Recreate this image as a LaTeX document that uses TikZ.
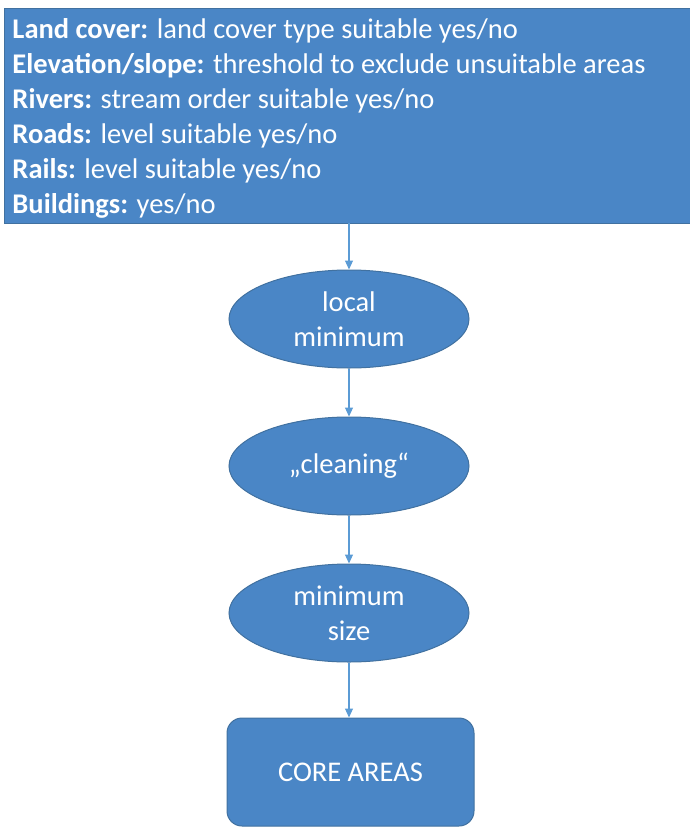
\documentclass[tikz,border=0pt]{standalone}
\usepackage{fontspec}
\setmainfont{Carlito}
\usetikzlibrary{shapes.geometric,arrows.meta}
\definecolor{boxfill}{RGB}{74,134,198}
\definecolor{boxline}{RGB}{65,113,160}
\definecolor{arrowcol}{RGB}{91,155,213}
\tikzset{
  blob/.style={fill=boxfill,draw=boxline,line width=1pt,text=white,font=\fontsize{28.5}{35}\selectfont},
  oval/.style={blob,ellipse,minimum width=240pt,minimum height=98pt,inner sep=0pt,align=center},
  flow/.style={draw=arrowcol,line width=1.1pt,-{Triangle[length=9pt,width=8pt]}}
}
\begin{document}
\begin{tikzpicture}[x=1pt,y=1pt]
\useasboundingbox (0,0) rectangle (690,-828);
\node[blob,anchor=north west,minimum width=692pt,minimum height=214.5pt,text width=676pt,inner xsep=5pt,inner ysep=0pt,align=flush left] (inputs) at (4,-8.3)
{\rule{0pt}{25pt}\textbf{Land cover:} land cover type suitable yes/no\\
\textbf{Elevation/slope:} threshold to exclude unsuitable areas\\
\textbf{Rivers:} stream order suitable yes/no\\
\textbf{Roads:} level suitable yes/no\\
\textbf{Rails:} level suitable yes/no\\
\textbf{Buildings:} yes/no};
\node[oval] (lm) at (349,-319) {local\\minimum};
\node[oval] (cl) at (349,-466) {„cleaning“};
\node[oval] (ms) at (349,-613) {minimum\\size};
\node[blob,rounded corners=15pt,minimum width=247pt,minimum height=108pt] (core) at (350.5,-772) {CORE AREAS};
\coordinate (top) at (349,-222.8);
\draw[flow] (top) -- (lm.north);
\draw[flow] (lm) -- (cl);
\draw[flow] (cl) -- (ms);
\draw[flow] (ms.south) -- (ms.south |- core.north);
\end{tikzpicture}
\end{document}
